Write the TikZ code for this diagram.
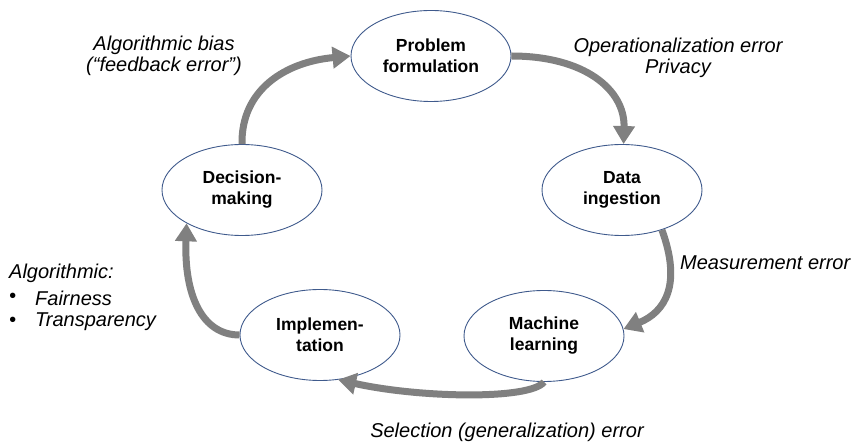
\documentclass[tikz,border=0pt]{standalone}
\usepackage{fontspec}
\setmainfont{Liberation Sans}
\usetikzlibrary{arrows.meta,shapes.geometric}
\definecolor{edgeblue}{HTML}{3F5A8C}
\definecolor{flowgray}{HTML}{808080}
\tikzset{
  stage/.style={ellipse, draw=edgeblue, line width=0.9pt, minimum width=160pt, minimum height=91pt,
    inner sep=0pt, align=center, font=\fontsize{17.5}{21}\selectfont\bfseries},
  flow/.style={draw=flowgray, line width=7pt, -{Triangle[length=18pt,width=21pt]}},
  lbl/.style={font=\fontsize{20}{21.5}\selectfont\itshape, inner sep=0pt, align=center}
}
\begin{document}
\begin{tikzpicture}[x=1pt,y=-1pt]
\useasboundingbox (0,0) rectangle (857,443);
\node[stage] (prob) at (431,56) {Problem\\formulation};
\node[stage] (data) at (622,190) {Data\\ingestion};
\node[stage] (ml) at (544,336) {Machine\\learning};
\node[stage] (impl) at (320,335) {Implemen-\\tation};
\node[stage] (dec) at (242,190) {Decision-\\making};

\draw[flow] (dec.north) .. controls (241,90) and (285,62) .. (prob.west);
\draw[flow] (prob.east) .. controls (585,56) and (625,90) .. (data.88);
\draw[flow] (data.-45) .. controls (682,285) and (665,312) .. (ml.5);
\draw[flow] (ml.south) .. controls (530,400) and (420,398) .. (impl.-68);
\draw[flow] (impl.west) .. controls (202,335) and (184,295) .. (dec.211);

\node[lbl] (l1) at (164,56) {Algorithmic bias\\(“feedback error”)};
\node[lbl] (l2) at (678,58) {Operationalization error\\Privacy};
\node[lbl, anchor=west] (l3) at (680,263) {Measurement error};
\node[lbl] (l4) at (507,432) {Selection (generalization) error};
\node[lbl, anchor=west] (l5) at (9,273) {Algorithmic:};
\node[lbl, anchor=west] (b1) at (9,298) {•};
\node[lbl, anchor=west] (l6) at (35,298) {Fairness};
\node[lbl, anchor=west] (b2) at (9,322) {•};
\node[lbl, anchor=west] (l7) at (35,322) {Transparency};
\end{tikzpicture}
\end{document}
